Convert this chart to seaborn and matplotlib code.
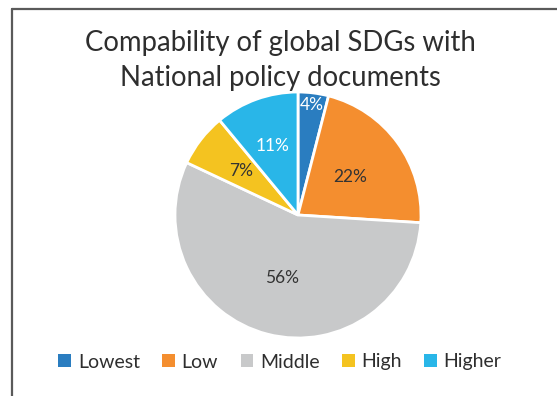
import matplotlib
matplotlib.use("Agg")
import matplotlib.pyplot as plt
from matplotlib.patches import Patch
from matplotlib.lines import Line2D
import numpy as np
import seaborn as sns

sns.set_theme(style="white")
plt.rcParams["font.family"] = ["Lato", "DejaVu Sans"]

# Data
categories = ["Lowest", "Low", "Middle", "High", "Higher"]
shares = [4, 22, 56, 7, 11]
colors = ["#2a7dc0", "#f48e2f", "#c8c9ca", "#f4c320", "#29b6e8"]
label_colors = ["white", "#333333", "#333333", "#333333", "white"]
label_radius = [0.90, 0.52, 0.53, 0.59, 0.60]

W, H = 557, 396
fig = plt.figure(figsize=(W / 100, H / 100), dpi=100)
fig.patch.set_facecolor("white")

# Pie axes: centre (298, 215) px, radius 123 px
cx, cy, r = 298, 215, 123
ax = fig.add_axes([(cx - r) / W, 1 - (cy + r) / H, 2 * r / W, 2 * r / H])
wedges, _, autotexts = ax.pie(
    shares,
    colors=colors,
    startangle=90,
    counterclock=False,
    autopct=lambda p: f"{p:.0f}%",
    pctdistance=0.55,
    wedgeprops=dict(edgecolor="white", linewidth=2),
    textprops=dict(fontsize=12.5),
)
for w, t, c, rr in zip(wedges, autotexts, label_colors, label_radius):
    ang = np.deg2rad((w.theta1 + w.theta2) / 2)
    t.set_position((rr * np.cos(ang), rr * np.sin(ang)))
    t.set_color(c)
ax.set_xlim(-1, 1)
ax.set_ylim(-1, 1)
ax.set_aspect("equal")
ax.axis("off")

# Title
fig.text(280 / W, 1 - 43 / H, "Compability of global SDGs with",
         ha="center", va="center", fontsize=19.8, color="#2e2e2e")
fig.text(280 / W, 1 - 78 / H, "National policy documents",
         ha="center", va="center", fontsize=19.8, color="#2e2e2e")

# Legend
handles = [Patch(facecolor=c, edgecolor="none") for c in colors]
fig.legend(handles, categories, loc="center", bbox_to_anchor=(280 / W, 1 - 362 / H),
           ncol=5, frameon=False, fontsize=14, handlelength=0.65, handleheight=0.65,
           handletextpad=0.35, columnspacing=1.15, labelcolor="#2e2e2e")

# Frame lines along top and left
fig.add_artist(Line2D([12 / W, 1], [1 - 9 / H, 1 - 9 / H], color="#5a5a5a", lw=1.6,
                      transform=fig.transFigure))
fig.add_artist(Line2D([12 / W, 12 / W], [0, 1 - 9 / H], color="#5a5a5a", lw=1.6,
                      transform=fig.transFigure))

fig.savefig("out.png", dpi=100, facecolor="white")
